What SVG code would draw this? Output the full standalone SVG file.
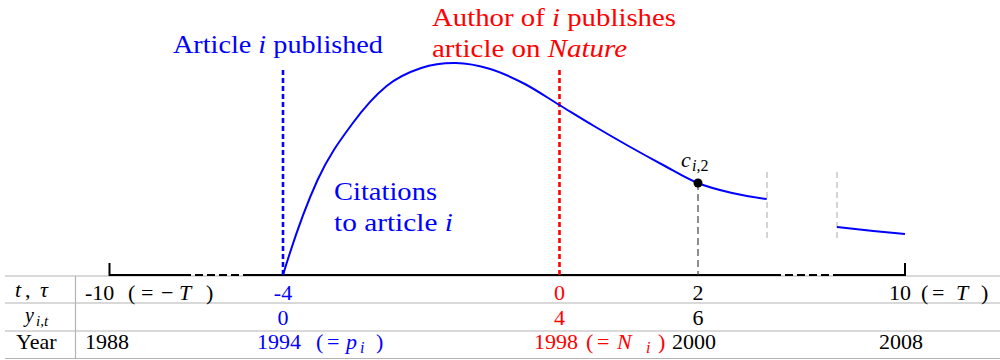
<svg xmlns="http://www.w3.org/2000/svg" width="1000" height="360" viewBox="0 0 1000 360">
<style>
text{font-family:Liberation Serif,Times New Roman,Times,DejaVu Serif,serif;}
.lbl{font-size:26px;}
.tb{font-size:22px;}
.it{font-style:italic;}
.sub{font-size:16px;font-style:italic;}
.grid{stroke:#b4b4b4;stroke-width:1.2;fill:none;}
.axis{stroke:#000;stroke-width:2;fill:none;}
.blue{fill:#0000ff;}
.red{fill:#ff0000;}
</style>
<rect width="1000" height="360" fill="#fff"/>
<g id="table">
<line class="grid" x1="5" y1="276" x2="1000" y2="276"/>
<line class="grid" x1="5" y1="303" x2="1000" y2="303"/>
<line class="grid" x1="5" y1="331" x2="1000" y2="331"/>
<line class="grid" x1="5" y1="358.5" x2="1000" y2="358.5"/>
<line class="grid" x1="75.5" y1="276" x2="75.5" y2="358.5"/>
<text class="tb" y="297"><tspan x="15" class="it">t</tspan><tspan x="25">,</tspan><tspan x="40" class="it">τ</tspan></text>
<text y="322" style="font-size:20px"><tspan x="25" class="it">y</tspan><tspan x="36" y="326" style="font-size:15px" class="it">i,t</tspan></text>
<text class="tb" x="16" y="349">Year</text>
<text class="tb" y="300"><tspan x="85">-10</tspan><tspan x="128">(</tspan><tspan x="141">=</tspan><tspan x="161">−</tspan><tspan x="179" class="it">T</tspan><tspan x="206">)</tspan></text>
<text class="tb" x="85" y="349">1988</text>
<text class="tb blue" x="283" y="300" text-anchor="middle">-4</text>
<text class="tb blue" x="283" y="325" text-anchor="middle">0</text>
<text class="tb blue" y="349"><tspan x="257">1994</tspan><tspan x="316">(</tspan><tspan x="327">=</tspan><tspan x="346" class="it">p</tspan><tspan x="360" y="353" class="sub">i</tspan><tspan x="376" y="349">)</tspan></text>
<text class="tb red" x="559.5" y="300" text-anchor="middle">0</text>
<text class="tb red" x="559.5" y="325" text-anchor="middle">4</text>
<text class="tb red" y="349"><tspan x="534">1998</tspan><tspan x="586">(</tspan><tspan x="597">=</tspan><tspan x="617" class="it">N</tspan><tspan x="646" y="353" class="sub">i</tspan><tspan x="658" y="349">)</tspan></text>
<text class="tb" x="698" y="300" text-anchor="middle">2</text>
<text class="tb" x="698" y="325" text-anchor="middle">6</text>
<text class="tb" x="672" y="349">2000</text>
<text class="tb" y="300"><tspan x="889">10</tspan><tspan x="921">(</tspan><tspan x="932">=</tspan><tspan x="956" class="it">T</tspan><tspan x="981">)</tspan></text>
<text class="tb" x="879" y="349">2008</text>
</g>
<g id="axis">
<path class="axis" d="M109.5,263 V275 H183 M248,275 H773 M835,275 H905 V263"/>
<path class="axis" d="M183,275 H248 M773,275 H835" stroke-dasharray="8,4"/>
</g>
<g id="connectors">
<line x1="283" y1="70" x2="283" y2="275" stroke="#0000ff" stroke-width="2.6" stroke-dasharray="5,3"/>
<line x1="559.5" y1="70" x2="559.5" y2="275" stroke="#ff0000" stroke-width="2.6" stroke-dasharray="5,3"/>
<line x1="698" y1="183" x2="698" y2="275" stroke="#444" stroke-width="1.2" stroke-dasharray="7,4"/>
<line x1="767" y1="172" x2="767" y2="240" stroke="#aaa" stroke-width="1" stroke-dasharray="6,4"/>
<line x1="837" y1="172" x2="837" y2="240" stroke="#aaa" stroke-width="1" stroke-dasharray="6,4"/>
</g>
<g id="curve" fill="none" stroke="#0000ff" stroke-width="2">
<path d="M283,275 C294.5,237 306.03,205.17 317.55,180 C329.07,154.83 340.58,139.67 352.1,124 C363.62,108.33 375.13,95.33 386.65,86 C398.17,76.67 409.68,71.83 421.2,68 C432.72,64.17 444.23,62.83 455.75,63 C467.27,63.17 478.78,65.5 490.3,69 C501.82,72.5 513.33,78 524.85,84 C536.37,90 547.88,98 559.4,105 C570.92,112 582.43,119.17 593.95,126 C605.47,132.83 616.98,139.5 628.5,146 C640.02,152.5 651.53,158.83 663.05,165 C674.57,171.17 686.08,178.33 697.6,183 C709.12,187.67 720.63,190.33 732.15,193 C743.67,195.67 755.2,197.6 766.7,199"/>
<path d="M837,227 Q871,231 905,234"/>
</g>
<g id="point">
<circle cx="698" cy="183" r="4.5" fill="#000"/>
<text class="tb" y="166.5"><tspan x="681" class="it">c</tspan><tspan x="692" y="171" style="font-size:16px"><tspan class="it">i</tspan>,2</tspan></text>
</g>
<g id="label-published">
<text class="lbl blue" x="173" y="52.5" textLength="210" lengthAdjust="spacingAndGlyphs">Article <tspan class="it">i</tspan> published</text>
</g>
<g id="label-nature">
<text class="lbl red" x="432" y="26" textLength="244" lengthAdjust="spacingAndGlyphs">Author of <tspan class="it">i</tspan> publishes</text>
<text class="lbl red" x="432" y="57" textLength="195" lengthAdjust="spacingAndGlyphs">article on <tspan class="it">Nature</tspan></text>
</g>
<g id="label-citations">
<text class="lbl blue" x="334" y="200" textLength="103" lengthAdjust="spacingAndGlyphs">Citations</text>
<text class="lbl blue" x="334" y="231" textLength="119" lengthAdjust="spacingAndGlyphs">to article <tspan class="it">i</tspan></text>
</g>
</svg>
